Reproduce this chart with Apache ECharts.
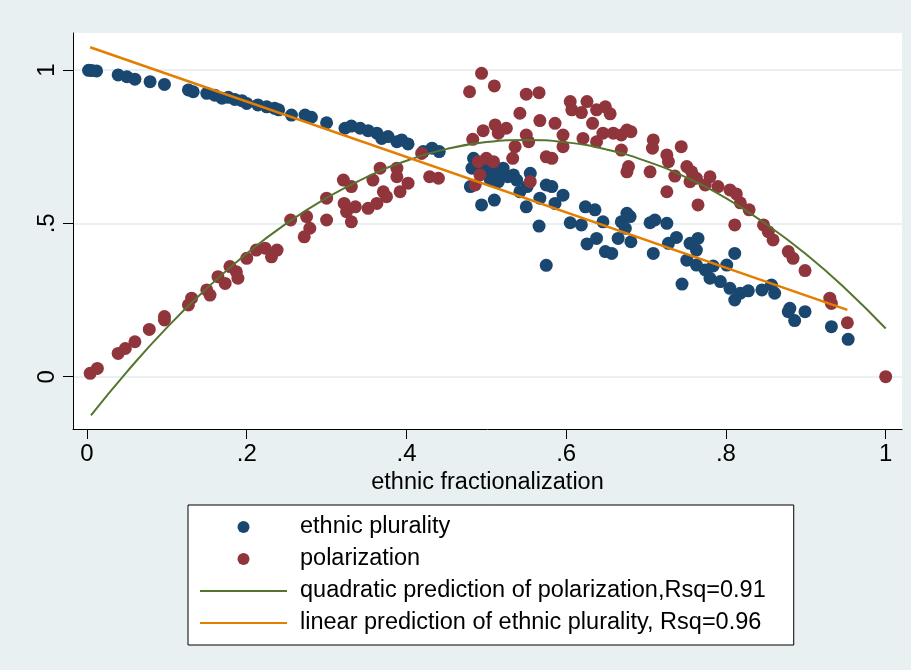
<!DOCTYPE html>
<html>
<head>
<meta charset="utf-8">
<title>ethnic fractionalization</title>
<script src="https://cdn.jsdelivr.net/npm/echarts@6/dist/echarts.min.js"></script>
<style>
html, body { margin: 0; padding: 0; background: #e8f0f2; }
#main { width: 911px; height: 670px; }
</style>
</head>
<body>
<div id="main"></div>
<script>
// values
var xTickValues = [0, 0.2, 0.4, 0.6, 0.8, 1];
var xTickLabels = ['0', '.2', '.4', '.6', '.8', '1'];
var yTickValues = [0, 0.5, 1];
var yTickLabels = ['0', '.5', '1'];

var fracPlurality = [0.002, 0.006, 0.012, 0.039, 0.050, 0.060, 0.079, 0.097, 0.127, 0.133,
    0.150, 0.160, 0.169, 0.177, 0.185, 0.194, 0.200, 0.214, 0.225, 0.235,
    0.240, 0.256, 0.273, 0.281, 0.300, 0.323, 0.331, 0.342, 0.352, 0.363,
    0.369, 0.377, 0.388, 0.394, 0.402, 0.421, 0.432, 0.441, 0.484, 0.482,
    0.480, 0.494, 0.510, 0.496, 0.505, 0.513, 0.521, 0.527, 0.534, 0.538,
    0.505, 0.515, 0.542, 0.551, 0.555, 0.550, 0.566, 0.575, 0.575, 0.582,
    0.567, 0.586, 0.596, 0.605, 0.619, 0.624, 0.626, 0.638, 0.636, 0.646,
    0.649, 0.657, 0.665, 0.669, 0.676, 0.680, 0.674, 0.681, 0.705, 0.711,
    0.726, 0.709, 0.728, 0.738, 0.755, 0.765, 0.763, 0.751, 0.763, 0.774,
    0.780, 0.784, 0.793, 0.801, 0.811, 0.805, 0.811, 0.818, 0.828, 0.845,
    0.857, 0.861, 0.745, 0.880, 0.886, 0.899, 0.878, 0.932, 0.953];
var plurality = [0.999, 0.998, 0.997, 0.984, 0.978, 0.970, 0.962, 0.953, 0.935, 0.929,
    0.924, 0.918, 0.908, 0.911, 0.904, 0.900, 0.891, 0.886, 0.880, 0.875,
    0.870, 0.853, 0.853, 0.846, 0.828, 0.810, 0.817, 0.810, 0.802, 0.794,
    0.777, 0.783, 0.766, 0.772, 0.759, 0.734, 0.745, 0.734, 0.712, 0.680,
    0.620, 0.560, 0.576, 0.685, 0.674, 0.663, 0.680, 0.652, 0.658, 0.641,
    0.641, 0.636, 0.603, 0.620, 0.663, 0.554, 0.491, 0.363, 0.625, 0.620,
    0.582, 0.565, 0.592, 0.502, 0.495, 0.554, 0.433, 0.451, 0.544, 0.505,
    0.408, 0.402, 0.451, 0.505, 0.533, 0.522, 0.484, 0.440, 0.502, 0.511,
    0.500, 0.402, 0.435, 0.454, 0.435, 0.451, 0.413, 0.380, 0.364, 0.348,
    0.321, 0.361, 0.310, 0.364, 0.402, 0.288, 0.250, 0.272, 0.280, 0.283,
    0.299, 0.272, 0.302, 0.223, 0.183, 0.212, 0.212, 0.163, 0.122];

var fracPolar = [0.004, 0.013, 0.039, 0.048, 0.060, 0.078, 0.097, 0.097, 0.127, 0.131,
    0.150, 0.154, 0.164, 0.173, 0.179, 0.187, 0.189, 0.200, 0.212, 0.223,
    0.231, 0.238, 0.255, 0.275, 0.279, 0.272, 0.300, 0.300, 0.321, 0.322,
    0.325, 0.331, 0.331, 0.336, 0.352, 0.363, 0.371, 0.375, 0.367, 0.358,
    0.388, 0.388, 0.392, 0.402, 0.419, 0.429, 0.440, 0.479, 0.494, 0.510,
    0.483, 0.496, 0.511, 0.515, 0.525, 0.490, 0.500, 0.509, 0.492, 0.486,
    0.536, 0.533, 0.542, 0.550, 0.566, 0.550, 0.553, 0.567, 0.586, 0.555,
    0.575, 0.582, 0.596, 0.596, 0.605, 0.607, 0.619, 0.626, 0.638, 0.649,
    0.655, 0.633, 0.621, 0.638, 0.646, 0.659, 0.669, 0.676, 0.669, 0.678,
    0.676, 0.681, 0.709, 0.708, 0.705, 0.726, 0.728, 0.744, 0.726, 0.736,
    0.751, 0.757, 0.755, 0.763, 0.774, 0.780, 0.790, 0.765, 0.805, 0.813,
    0.818, 0.829, 0.811, 0.847, 0.853, 0.859, 0.878, 0.884, 0.899, 0.930,
    0.932, 0.952, 1.000];
var polar = [0.011, 0.027, 0.076, 0.092, 0.114, 0.154, 0.185, 0.196, 0.234, 0.256,
    0.283, 0.266, 0.326, 0.304, 0.359, 0.342, 0.321, 0.386, 0.413, 0.419,
    0.391, 0.413, 0.511, 0.522, 0.484, 0.456, 0.582, 0.511, 0.641, 0.565,
    0.538, 0.505, 0.620, 0.554, 0.549, 0.565, 0.603, 0.587, 0.680, 0.641,
    0.680, 0.652, 0.603, 0.631, 0.728, 0.652, 0.647, 0.929, 0.989, 0.948,
    0.774, 0.802, 0.821, 0.794, 0.810, 0.701, 0.712, 0.701, 0.658, 0.625,
    0.750, 0.712, 0.859, 0.921, 0.926, 0.788, 0.766, 0.835, 0.826, 0.636,
    0.717, 0.712, 0.788, 0.750, 0.897, 0.870, 0.861, 0.897, 0.870, 0.880,
    0.857, 0.826, 0.777, 0.766, 0.794, 0.794, 0.788, 0.804, 0.739, 0.685,
    0.668, 0.799, 0.772, 0.745, 0.668, 0.723, 0.701, 0.750, 0.603, 0.654,
    0.685, 0.668, 0.636, 0.647, 0.625, 0.652, 0.620, 0.560, 0.609, 0.596,
    0.567, 0.544, 0.495, 0.495, 0.473, 0.446, 0.408, 0.386, 0.346, 0.256,
    0.239, 0.176, 0.000];

// fitted curves
var quadX = [0.005, 0.05, 0.1, 0.15, 0.2, 0.25, 0.3, 0.35, 0.4, 0.45, 0.5,
    0.55, 0.6, 0.65, 0.7, 0.75, 0.8, 0.85, 0.9, 0.95, 1.0];
var quadY = [-0.126, 0.016, 0.160, 0.288, 0.402, 0.500, 0.583, 0.651, 0.704, 0.742, 0.765,
    0.772, 0.764, 0.741, 0.703, 0.650, 0.582, 0.498, 0.400, 0.286, 0.157];
var linX = [0.004, 0.952];
var linY = [1.074, 0.218];

var FONT = "'Liberation Sans', Arial, sans-serif";
var LINE_ICON = 'path://M0,0 L87,0 L87,2 L0,2 Z';

function zip(xs, ys) {
    var out = [];
    for (var i = 0; i < xs.length; i++) {
        out.push([xs[i], ys[i]]);
    }
    return out;
}

function tickLabel(values, labels) {
    return function (v) {
        for (var i = 0; i < values.length; i++) {
            if (Math.abs(values[i] - v) < 1e-9) return labels[i];
        }
        return '';
    };
}

var chart = echarts.init(document.getElementById('main'), null, { renderer: 'canvas' });

var option = {
    animation: false,
    backgroundColor: '#e8f0f2',
    grid: {
        left: 73, right: 9, top: 33, bottom: 241,
        show: true,
        backgroundColor: '#ffffff',
        borderWidth: 0
    },
    legend: {
        orient: 'vertical',
        left: 188, top: 505,
        padding: [7, 28, 7, 12],
        itemWidth: 87, itemHeight: 12, itemGap: 2,
        backgroundColor: '#ffffff',
        borderColor: '#000000',
        borderWidth: 1,
        borderRadius: 0,
        selectedMode: false,
        textStyle: {
            fontFamily: FONT, fontSize: 23.5, color: '#000',
            lineHeight: 30, padding: [0, 0, 0, 8]
        },
        data: [
            { name: 'ethnic plurality' },
            { name: 'polarization' },
            { name: 'quadratic prediction of polarization,Rsq=0.91', icon: LINE_ICON },
            { name: 'linear prediction of ethnic plurality, Rsq=0.96', icon: LINE_ICON }
        ]
    },
    xAxis: {
        type: 'value',
        min: -0.0175, max: 1.0204,
        name: 'ethnic fractionalization',
        nameLocation: 'middle',
        nameGap: 36,
        nameTextStyle: { fontFamily: FONT, fontSize: 23.5, color: '#000' },
        axisLine: { show: true, onZero: false, lineStyle: { color: '#000', width: 1 } },
        axisTick: { show: true, customValues: xTickValues, length: 10, lineStyle: { color: '#000', width: 1 } },
        axisLabel: {
            customValues: xTickValues,
            formatter: tickLabel(xTickValues, xTickLabels),
            fontFamily: FONT, fontSize: 24, color: '#000', margin: 13
        },
        splitLine: { show: false }
    },
    yAxis: {
        type: 'value',
        min: -0.1705, max: 1.1206,
        axisLine: { show: true, onZero: false, lineStyle: { color: '#000', width: 1 } },
        axisTick: { show: true, customValues: yTickValues, length: 10, lineStyle: { color: '#000', width: 1 } },
        axisLabel: {
            customValues: yTickValues,
            formatter: tickLabel(yTickValues, yTickLabels),
            rotate: 90,
            fontFamily: FONT, fontSize: 24, color: '#000', margin: 14
        },
        splitLine: { show: true, lineStyle: { color: '#e8f0f2', width: 2 } }
    },
    series: [
        {
            name: 'ethnic plurality',
            type: 'scatter',
            symbol: 'circle',
            symbolSize: 13,
            itemStyle: { color: '#1a476f', opacity: 1 },
            data: zip(fracPlurality, plurality)
        },
        {
            name: 'polarization',
            type: 'scatter',
            symbol: 'circle',
            symbolSize: 13,
            itemStyle: { color: '#90353b', opacity: 1 },
            data: zip(fracPolar, polar)
        },
        {
            name: 'quadratic prediction of polarization,Rsq=0.91',
            type: 'line',
            symbol: 'none',
            showSymbol: false,
            smooth: true,
            lineStyle: { color: '#55752f', width: 2 },
            itemStyle: { color: '#55752f' },
            data: zip(quadX, quadY)
        },
        {
            name: 'linear prediction of ethnic plurality, Rsq=0.96',
            type: 'line',
            symbol: 'none',
            showSymbol: false,
            lineStyle: { color: '#e37e00', width: 2.5 },
            itemStyle: { color: '#e37e00' },
            data: zip(linX, linY)
        }
    ]
};

chart.setOption(option);
</script>
</body>
</html>
